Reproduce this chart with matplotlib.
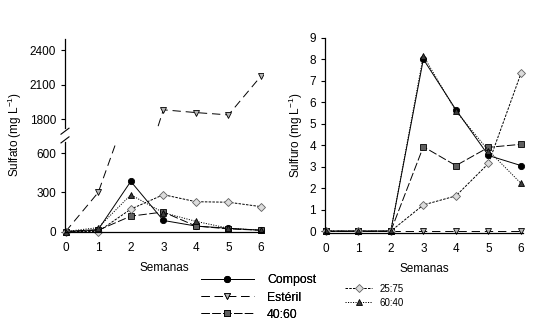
import matplotlib
matplotlib.use("Agg")
import matplotlib.pyplot as plt

plt.rcParams['font.family'] = ['Liberation Sans', 'DejaVu Sans']
plt.rcParams['mathtext.default'] = 'regular'
plt.rcParams['lines.scale_dashes'] = False

weeks = [0, 1, 2, 3, 4, 5, 6]
x_ticks = [0, 1, 2, 3, 4, 5, 6]

# Sulfato (mg L-1)
sulfato_compost = [0, 15, 385, 85, 42, 25, 10]
sulfato_esteril = [0, 300, 1000, 1882, 1858, 1838, 2175]
sulfato_40_60 = [0, 10, 118, 150, 42, 20, 10]
sulfato_25_75 = [0, 0, 172, 283, 229, 225, 191]
sulfato_60_40 = [0, 30, 282, 145, 78, 25, 10]

# Sulfuro (mg L-1)
sulfuro_compost = [0, 0, 0, 8.0, 5.65, 3.52, 3.05]
sulfuro_esteril = [0, 0, 0, 0, 0, 0, 0]
sulfuro_40_60 = [0, 0, 0, 3.93, 3.05, 3.9, 4.04]
sulfuro_25_75 = [0, 0, 0, 1.22, 1.64, 3.15, 7.35]
sulfuro_60_40 = [0, 0, 0, 8.16, 5.58, 3.75, 2.22]

labels = ['Compost', 'Estéril', '40:60', '25:75', '60:40']
low_ticks = [0, 300, 600]
high_ticks = [1800, 2100, 2400]
sulfuro_ticks = [0, 1, 2, 3, 4, 5, 6, 7, 8, 9]

styles = {
    'Compost': dict(color='black', ls='-', marker='o', mfc='black', mec='black', ms=4.5),
    'Estéril': dict(color='black', ls=(0, (6, 3.5)), marker='v', mfc='#b4b4b4', mec='black', ms=5),
    '40:60': dict(color='black', ls=(0, (6, 1.8)), marker='s', mfc='#606060', mec='black', ms=4.5),
    '25:75': dict(color='black', ls=(0, (1.8, 0.9)), marker='D', mfc='#dcdcdc', mec='#606060', ms=4.2),
    '60:40': dict(color='black', ls=(0, (0.8, 1.0)), marker='^', mfc='#3c3c3c', mec='black', ms=5),
}
lw = 0.7
mew = 0.6

W, H = 542, 329
fig = plt.figure(figsize=(W / 100, H / 100), dpi=100)

def frac(left, top, right, bottom):
    return [left / W, 1 - bottom / H, (right - left) / W, (bottom - top) / H]

ax_hi = fig.add_axes(frac(65, 38.5, 263, 128.5))
ax_lo = fig.add_axes(frac(65, 141.7, 263, 232.3))
ax_r = fig.add_axes(frac(325, 37.7, 523, 233.3))

sulfato = [sulfato_compost, sulfato_esteril, sulfato_40_60, sulfato_25_75, sulfato_60_40]
sulfuro = [sulfuro_compost, sulfuro_esteril, sulfuro_40_60, sulfuro_25_75, sulfuro_60_40]

handles = []
for lab, ys in zip(labels, sulfato):
    for ax in (ax_hi, ax_lo):
        h, = ax.plot(weeks, ys, lw=lw, mew=mew, clip_on=(ax is ax_hi) or lab == 'Estéril', **styles[lab])
    handles.append(h)
for ax in (ax_hi, ax_lo):
    ax.set_xlim(-0.02, 6.06)
ax_hi.set_ylim(1720, 2500)
ax_lo.set_ylim(-6, 690)
ax_hi.set_yticks(high_ticks)
ax_lo.set_yticks(low_ticks)
ax_lo.set_xticks(x_ticks)
ax_hi.set_xticks([])
for s in ['top', 'right', 'bottom']:
    ax_hi.spines[s].set_visible(False)
for s in ['top', 'right']:
    ax_lo.spines[s].set_visible(False)

for lab, ys in zip(labels, sulfuro):
    ax_r.plot(weeks, ys, lw=lw, mew=mew, clip_on=False, **styles[lab])
ax_r.set_xlim(-0.02, 6.06)
ax_r.set_ylim(-0.1, 9)
ax_r.set_yticks(sulfuro_ticks)
ax_r.set_xticks(x_ticks)
for s in ['top', 'right']:
    ax_r.spines[s].set_visible(False)

for ax in (ax_hi, ax_lo, ax_r):
    for s in ax.spines.values():
        s.set_linewidth(0.9)
    ax.tick_params(axis='y', direction='out', length=3, width=0.8, pad=3.5, labelsize=8.5)
    ax.tick_params(axis='x', length=0, pad=7, labelsize=8.5)

# break marks
d_x, d_y = 4 / 198, 3 / 90
kw = dict(color='black', lw=0.8, clip_on=False)
ax_hi.plot([-d_x, d_x], [-0.03 - d_y, -0.03 + d_y], transform=ax_hi.transAxes, **kw)
ax_lo.plot([-d_x, d_x], [1.02 - d_y, 1.02 + d_y], transform=ax_lo.transAxes, **kw)

ax_lo.set_xlabel('Semanas', fontsize=8.5)
ax_lo.xaxis.set_label_coords(0.5, -0.33)
ax_r.set_xlabel('Semanas', fontsize=8.5)
ax_r.xaxis.set_label_coords(0.5, -0.152)
fig.text(15 / W, 1 - 135 / H, 'Sulfato (mg L$^{-1}$)', rotation=90, ha='center', va='center', fontsize=8.5)
fig.text(296 / W, 1 - 135 / H, 'Sulfuro (mg L$^{-1}$)', rotation=90, ha='center', va='center', fontsize=8.5)

leg1 = fig.legend(handles[:3], labels[:3], loc='upper left', bbox_to_anchor=(201 / W, 1 - 274.5 / H),
                  frameon=False, fontsize=8.8, handlelength=4.3, handletextpad=1.1,
                  labelspacing=0.42, borderpad=0, borderaxespad=0)
fig.legend(handles[3:], labels[3:], loc='upper left', bbox_to_anchor=(345 / W, 1 - 283.5 / H),
           frameon=False, fontsize=7, handlelength=2.8, handletextpad=0.8,
           labelspacing=0.42, borderpad=0, borderaxespad=0)
fig.add_artist(leg1)

fig.savefig('out.png', dpi=100)
